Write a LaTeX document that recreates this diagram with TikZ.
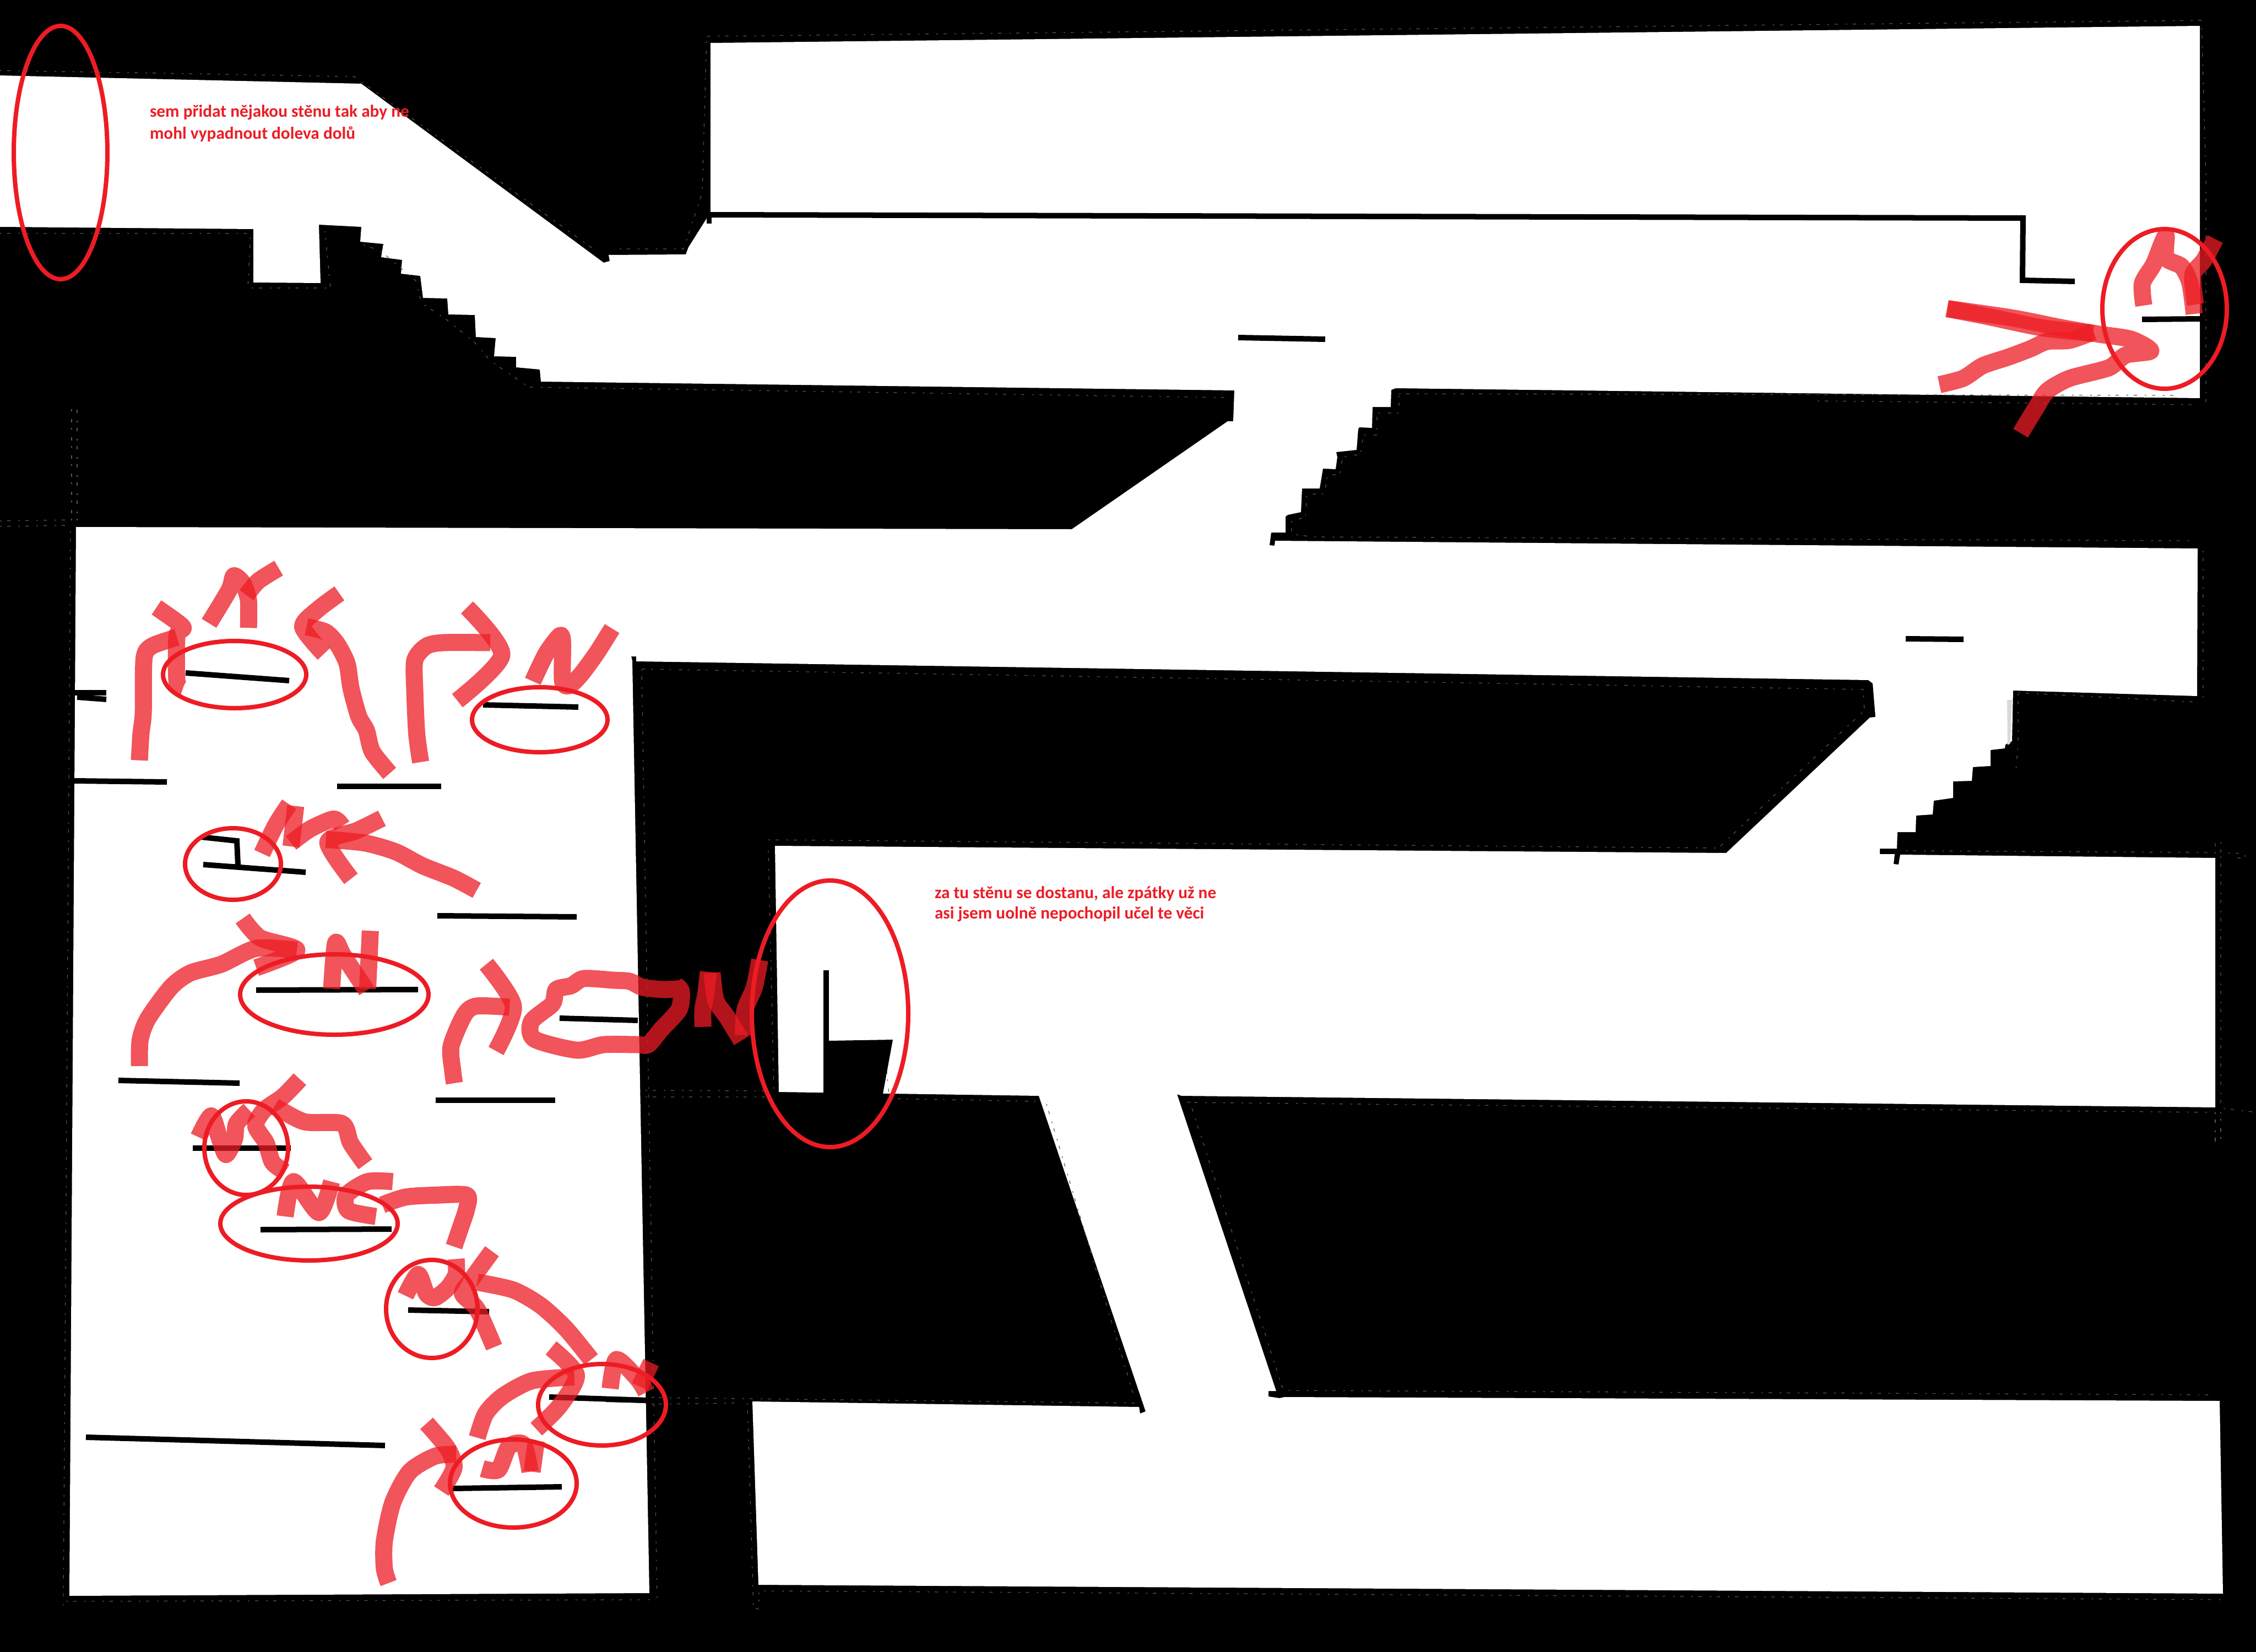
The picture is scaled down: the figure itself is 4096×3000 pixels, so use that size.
\documentclass[tikz,border=0pt]{standalone}
\usepackage{fontspec}
\setmainfont{Carlito}
\definecolor{hl}{HTML}{ED1C24}
\tikzset{
  wall/.style={draw=black,line width=0.1cm,line cap=butt,line join=miter},
  ghost/.style={draw=white!35!black,line width=0.012cm,dash pattern=on 0.03cm off 0.1cm on 0.06cm off 0.14cm},
  marker/.style={draw=hl,draw opacity=.75,line width=0.31cm,line cap=butt,line join=round},
  ring/.style={draw=hl,line width=0.08cm,fill=none},
  note/.style={text=hl,font=\bfseries\fontsize{8.9pt}{10pt}\selectfont,anchor=base west,inner sep=0pt,outer sep=0pt}
}
\newcommand{\mk}[1]{\draw[marker] plot[smooth,tension=.45] coordinates {#1};}
\begin{document}
\begin{tikzpicture}[x=0.01cm,y=-0.01cm]
\useasboundingbox (0,0) rectangle (4096,3000);
\fill[black] (0,0) rectangle (4096,3000);
% the white level
\fill[white] (0,137)--(656,152)--(1096,477)--(1107,474)--(1105,463)--(1245,462)--(1250,449)--(1284,395)--(1290,385)--(1290,78)
 --(3994,47)--(3994,723)--(2534,705)--(2526,708)--(2525,739)--(2492,739)--(2491,777)--(2468,776)--(2466,779)--(2463,817)
 --(2426,821)--(2428,830)--(2425,852)--(2402,851)--(2396,887)--(2364,887)--(2362,930)--(2338,935)--(2334,938)--(2334,967)
 --(2308,967)--(2305,990)--(2314,991)--(2315,982)--(3990,996)--(3989,1264)--(3655,1254)--(3653,1346)--(3641,1352)--(3640,1359)
 --(3614,1362)--(3614,1391)--(3582,1393)--(3580,1418)--(3546,1419)--(3546,1449)--(3511,1454)--(3509,1479)--(3479,1481)--(3478,1511)
 --(3445,1511)--(3444,1541)--(3413,1541)--(3413,1551)--(3440,1551)--(3438,1569)--(3447,1570)--(3450,1552)--(4022,1558)--(4022,2011)
 --(2145,1990)--(2137,1987)--(2317,2526)--(2303,2526)--(2303,2536)--(2323,2539)--(2332,2537)--(4030,2544)--(4036,2894)--(1377,2878)
 --(1366,2545)--(2068,2555)--(2070,2567)--(2080,2563)--(1886,1990)--(1414,1983)--(1407,1536)--(3134,1549)--(3395,1303)--(3405,1302)
 --(3400,1241)--(3392,1235)--(1155,1201)--(1155,1192)--(1146,1192)--(1148,1200)--(1179,2893)--(126,2898)--(138,957)--(1946,961)
 --(2229,765)--(2239,765)--(2241,709)--(982,693)--(980,671)--(937,667)--(937,648)--(897,647)--(900,614)--(864,612)--(862,572)
 --(814,571)--(812,542)--(768,541)--(763,501)--(728,497)--(730,472)--(692,467)--(696,443)--(654,439)--(656,412)--(579,408)
 --(582,514)--(460,513)--(460,416)--(0,412)--cycle;
% faint traces left in the black
\draw[ghost] (0,128)--(643,139)--(1080,454);
\draw[ghost] (1125,452)--(1241,452)--(1275,350)--(1283,66)--(3997,37)--(4005,320)--(4005,735);
\draw[ghost] (0,424)--(455,424)--(450,523)--(600,523)--(590,420);
\draw[ghost] (660,445)--(690,455)--(720,480)--(755,510)--(765,550)--(810,580)--(860,620)--(890,655)--(960,703)--(2230,722);
\draw[ghost] (3300,728)--(3990,735);
\draw[ghost] (2540,715)--(3960,718);
\draw[ghost] (2540,718)--(2540,750)--(2500,750)--(2500,790)--(2475,790)--(2470,825)--(2438,830)--(2432,862)--(2410,862)--(2405,897)--(2373,897)--(2370,940)--(2345,945)--(2345,970)--(2385,975)--(3980,982);
\draw[ghost] (130,945)--(130,744)--(140,744)--(140,945);
\draw[ghost] (0,946)--(128,944) (0,956)--(128,954);
\draw[ghost] (128,965)--(115,2915);
\draw[ghost] (120,2908)--(1190,2905) (1387,2889)--(4040,2905);
\draw[ghost] (1165,1215)--(1193,2903);
\draw[ghost] (1172,1980)--(1395,1981) (1172,1992)--(1395,1992) (1395,1545)--(1405,1980);
\draw[ghost] (1395,1525)--(3120,1540)--(3385,1290)--(3383,1252)--(1165,1215);
\draw[ghost] (1357,2548)--(1368,2920)--(1378,2922)--(1378,2892);
\draw[ghost] (1183,2538)--(2060,2548) (1183,2550)--(1333,2548);
\draw[ghost] (1900,2005)--(2060,2540) (2160,2000)--(2330,2525)--(4020,2533);
\draw[ghost] (1880,2000)--(1615,1995)--(1605,1900)--(1515,1900);
\draw[ghost] (2155,2002)--(4015,2020) (4032,1555)--(4032,2012)--(4096,2020);
\draw[ghost] (3665,1258)--(3990,1275) (3664,1260)--(3664,1350)--(3660,1400);
\draw[ghost] (4000,1000)--(4000,1270) (3460,1545)--(4010,1548);
\draw[ghost] (4022,1550)--(4022,1528)--(4032,1528)--(4032,1550) (4046,1549)--(4076,1550)--(4076,1558)--(4050,1558);
\draw[ghost] (4022,2020)--(4022,2072)--(4032,2072)--(4032,2020);
% thin walls and ledges
\fill[black] (1283,385) rectangle (1292,406);
\draw[wall] (1287,390)--(3673,396);
\draw[wall] (3673,391)--(3672,509)--(3767,511);
\draw[wall] (3889,580)--(3995,579);
\draw[wall] (2248,613)--(2406,616);
\draw[wall] (3460,1160)--(3565,1161);
\draw[wall] (135,1258)--(193,1258);
\draw[wall] (140,1266)--(193,1270);
\draw[wall] (135,1418)--(303,1420);
\draw[wall] (612,1428)--(801,1428);
\draw[wall] (337,1222)--(525,1236);
\draw[wall] (877,1280)--(1050,1284);
\draw[wall] (794,1663)--(1047,1665);
\draw[wall] (369,1570)--(555,1584);
\draw[wall] (465,1798)--(759,1797);
\draw[wall] (365,1520)--(430,1527)--(432,1570);
\draw[wall] (215,1962)--(435,1967);
\draw[wall] (791,1998)--(1008,1998);
\draw[wall] (350,2085)--(528,2085);
\draw[wall] (473,2233)--(711,2232);
\draw[wall] (741,2379)--(888,2382);
\draw[wall] (997,2537)--(1175,2543);
\draw[wall] (156,2610)--(699,2625);
\draw[wall] (822,2703)--(1020,2700);
\draw[wall] (1016,1849)--(1158,1853);
\draw[wall] (1100,2541)--(1175,2543);
\draw[wall] (1500,1762)--(1500,1986);
\fill[black] (1505,1890)--(1621,1888)--(1603,1986)--(1500,1986)--cycle;
\fill[black!15] (3644,1271)--(3653,1271)--(3650,1350)--(3645,1353)--cycle;
% marker strokes, first group
\begin{scope}[shift={(100,950)},x=0.007015cm,y=-0.006378cm]
\mk{(218,675)(222,600)(228,540)(230,385)(250,350)(315,325)}
\mk{(262,240)(330,295)(315,320)(315,450)(330,472)}
\mk{(398,285)(450,190)(462,150)(485,170)(500,220)(500,298)}
\mk{(495,205)(525,165)(578,128)}
\mk{(735,200)(680,245)(640,295)(695,372)}
\mk{(650,295)(700,310)(730,345)(755,400)(765,470)(785,550)(805,590)(820,650)(865,712)}
\mk{(945,680)(935,600)(930,480)(930,390)(960,350)(1005,340)(1125,340)}
\mk{(1065,240)(1155,375)(1040,505)}
\mk{(1235,450)(1270,370)(1305,320)(1312,340)(1312,450)(1330,462)(1360,430)(1400,370)(1440,300)}
\mk{(535,940)(570,860)(605,800)}
\mk{(622,805)(610,920)}
\mk{(610,910)(660,870)(720,842)(742,862)}
\mk{(845,840)(780,875)(705,908)(765,1012)}
\mk{(700,900)(800,910)(880,935)(950,975)(1030,1010)(1090,1045)}
\mk{(218,1545)(220,1470)(240,1410)(300,1320)(350,1280)(430,1255)(520,1210)(625,1215)}
\mk{(485,1125)(530,1180)(625,1215)(520,1265)}
\mk{(715,1325)(725,1195)(745,1230)(805,1330)}
\mk{(808,1325)(815,1160)}
\mk{(1115,1255)(1185,1375)(1140,1502)}
\end{scope}
\mk{(825,1967)(822,1945)(819,1900)(843,1843)(865,1827)(925,1829)}
\mk{(1240,1795)(1207,1797)(1167,1793)(1143,1782)(1113,1780)(1060,1777)(1037,1790)(1010,1797)(1003,1823)(965,1855)(970,1887)(1047,1907)(1096,1897)(1157,1897)(1177,1897)(1200,1870)(1233,1833)(1237,1800)(1228,1790)}
\begin{scope}[shift={(1000,1700)},x=0.003333cm,y=-0.003333cm]
\mk{(830,495)(830,400)(845,320)(860,195)}
\mk{(880,200)(900,350)(960,440)(1040,570)}
\mk{(1050,540)(1060,400)(1110,280)(1140,130)}
\end{scope}
% marker strokes, second group
\begin{scope}[shift={(100,1900)},x=0.007653cm,y=-0.007015cm]
\mk{(340,235)(370,180)(390,240)(405,280)(425,240)(430,200)(460,165)}
\mk{(580,85)(540,130)(495,165)(475,205)(500,250)(515,300)(545,325)}
\mk{(735,305)(700,250)(680,200)(590,195)(520,155)}
\mk{(545,440)(565,350)(625,430)(655,350)}
\mk{(800,350)(740,350)(690,385)(695,425)(760,440)}
\mk{(775,410)(830,390)(900,385)(975,385)(975,420)(960,470)(945,518)}
\mk{(830,645)(860,590)(880,640)(900,650)(930,625)(950,590)(950,550)}
\mk{(1035,530)(985,605)(965,640)(1000,680)(1040,778)}
\mk{(1270,810)(1210,730)(1150,670)(1085,630)(1000,610)}
\mk{(1175,780)(1235,850)(1195,930)(1140,990)}
\mk{(1230,855)(1130,865)(1060,905)(1020,950)(1000,1012)}
\mk{(1315,885)(1330,810)(1380,860)(1400,895)}
\mk{(1385,880)(1412,818)}
\mk{(880,975)(930,1040)(945,1090)(915,1150)}
\mk{(790,1388)(780,1350)(780,1280)(800,1180)(840,1100)(900,1060)(950,1055)}
\mk{(1012,1092)(1050,1095)(1075,1035)(1110,1030)(1125,1100)}
\mk{(1130,1100)(1140,1020)}
\end{scope}
% marker strokes at the upper right
\begin{scope}[shift={(3300,300)},x=0.005076cm,y=-0.003827cm]
\mk{(462,680)(600,715)(800,770)(985,797)}
\mk{(465,680)(700,725)(870,770)(1000,800)(1120,825)(1190,880)(1100,900)(1040,960)(900,1010)(820,1070)(780,1150)(725,1270)}
\mk{(435,1040)(520,1010)(590,950)(680,910)(760,870)(820,835)(900,830)(985,790)}
\mk{(1165,665)(1160,560)(1200,470)(1230,370)(1245,335)(1245,440)(1300,480)(1330,560)(1345,705)}
\mk{(1350,660)(1340,520)(1380,450)(1420,350)}
\end{scope}
% rings
\draw[ring] (110,277) ellipse [x radius=85,y radius=230];
\draw[ring] (3930,561) ellipse [x radius=113,y radius=145];
\draw[ring] (1507,1841) ellipse [x radius=142,y radius=242];
\draw[ring] (426,1225) ellipse [x radius=130,y radius=61];
\draw[ring] (980,1307) ellipse [x radius=123,y radius=59];
\draw[ring] (423,1569) ellipse [x radius=87,y radius=65];
\draw[ring] (607,1806) ellipse [x radius=171,y radius=73];
\draw[ring] (447,2085) ellipse [x radius=76,y radius=85];
\draw[ring] (561,2222) ellipse [x radius=161,y radius=67];
\draw[ring] (784,2377) ellipse [x radius=83,y radius=89];
\draw[ring] (1093,2551) ellipse [x radius=116,y radius=74];
\draw[ring] (932,2694) ellipse [x radius=115,y radius=80];
% notes
\node[note] (note1a) at (272,213) {sem přidat nějakou stěnu tak aby ne};
\node[note] (note1b) at (272,252) {mohl vypadnout doleva dolů};
\node[note] (note2a) at (1697,1631) {za tu stěnu se dostanu, ale zpátky už ne};
\node[note] (note2b) at (1697,1668) {asi jsem uolně nepochopil učel te věci};
\end{tikzpicture}
\end{document}
